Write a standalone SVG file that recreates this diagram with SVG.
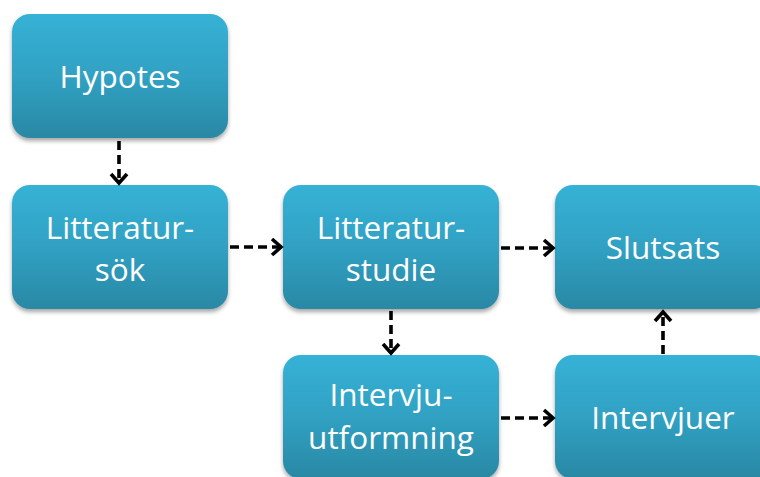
<svg xmlns="http://www.w3.org/2000/svg" width="760" height="477" viewBox="0 0 760 477">
<defs>
<linearGradient id="g" x1="0" y1="0" x2="0" y2="1">
<stop offset="0" stop-color="#36b2d6"/>
<stop offset="0.5" stop-color="#30a1c3"/>
<stop offset="1" stop-color="#2a88a4"/>
</linearGradient>
<filter id="sh" x="-10%" y="-10%" width="120%" height="125%">
<feGaussianBlur in="SourceAlpha" stdDeviation="2"/>
<feOffset dy="3"/>
<feComponentTransfer><feFuncA type="linear" slope="0.35"/></feComponentTransfer>
<feMerge><feMergeNode/><feMergeNode in="SourceGraphic"/></feMerge>
</filter>
<marker id="ah" markerUnits="userSpaceOnUse" markerWidth="22" markerHeight="22" refX="12" refY="11" orient="auto">
<path d="M3,3 L12,11 L3,19" fill="none" stroke="#000" stroke-width="3.6"/>
</marker>
<style>
.box{fill:url(#g);filter:url(#sh)}
.t{font-family:"Open Sans","Noto Sans",sans-serif;font-size:31.5px;fill:#fff;text-anchor:middle}
.c{fill:none;stroke:#000;stroke-width:3.6;stroke-dasharray:9 5;marker-end:url(#ah)}
</style>
</defs>
<rect width="760" height="477" fill="#fff"/>
<g id="hypotes"><rect class="box" x="12" y="14" width="216" height="124" rx="18"/><text class="t" x="120" y="88">Hypotes</text></g>
<g id="litteratursok"><rect class="box" x="12" y="185" width="216" height="124" rx="18"/><text class="t" x="120" y="239">Litteratur-</text><text class="t" x="120" y="281">sök</text></g>
<g id="litteraturstudie"><rect class="box" x="283" y="185" width="216" height="124" rx="18"/><text class="t" x="391" y="239">Litteratur-</text><text class="t" x="391" y="281">studie</text></g>
<g id="slutsats"><rect class="box" x="555" y="185" width="216" height="124" rx="18"/><text class="t" x="663" y="259">Slutsats</text></g>
<g id="intervjuutformning"><rect class="box" x="283" y="355" width="216" height="124" rx="18"/><text class="t" x="391" y="406">Intervju-</text><text class="t" x="391" y="449">utformning</text></g>
<g id="intervjuer"><rect class="box" x="555" y="355" width="216" height="124" rx="18"/><text class="t" x="663" y="429">Intervjuer</text></g>
<g id="connectors">
<path class="c" d="M119,141 V183"/>
<path class="c" d="M230,247 H281"/>
<path class="c" d="M501,248 H553"/>
<path class="c" d="M391,311 V353"/>
<path class="c" d="M501,418 H553"/>
<path class="c" d="M663,354 V312"/>
</g>
</svg>
